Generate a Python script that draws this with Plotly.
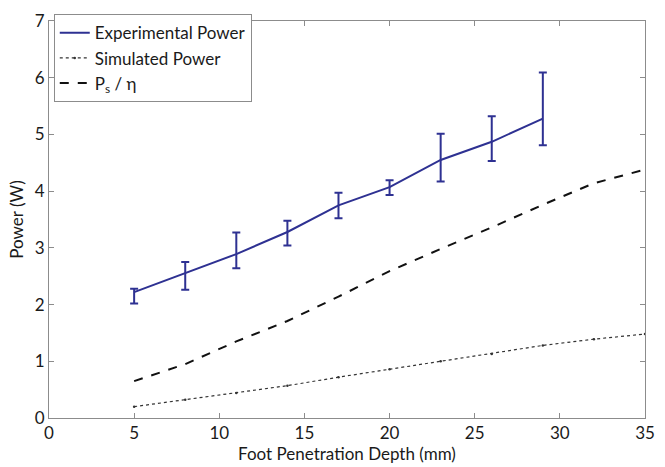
import plotly.graph_objects as go

depth_exp = [5, 8, 11, 14, 17, 20, 23, 26, 29]
power_exp = [2.22, 2.56, 2.89, 3.28, 3.75, 4.07, 4.55, 4.87, 5.28]
power_exp_hi = [2.28, 2.75, 3.27, 3.48, 3.97, 4.19, 5.01, 5.32, 6.09]
power_exp_lo = [2.02, 2.26, 2.64, 3.04, 3.52, 3.93, 4.17, 4.53, 4.81]

depth_sim = [5, 8, 11, 14, 17, 20, 23, 26, 29, 32, 35]
power_sim = [0.20, 0.32, 0.44, 0.57, 0.72, 0.86, 1.00, 1.13, 1.28, 1.39, 1.48]
power_ps_eta = [0.65, 0.95, 1.35, 1.71, 2.14, 2.59, 2.98, 3.36, 3.76, 4.14, 4.38]

x_ticks = [0, 5, 10, 15, 20, 25, 30, 35]
y_ticks = [0, 1, 2, 3, 4, 5, 6, 7]

blue = "#2e3192"
text_color = "#1a1a1a"
font_family = "Lato, 'Open Sans', sans-serif"

fig = go.Figure()
fig.add_trace(go.Scatter(
    x=depth_exp, y=power_exp, mode="lines", name="Experimental Power",
    line=dict(color=blue, width=2),
    error_y=dict(type="data", symmetric=False,
                 array=[h - v for h, v in zip(power_exp_hi, power_exp)],
                 arrayminus=[v - l for v, l in zip(power_exp, power_exp_lo)],
                 color=blue, thickness=2, width=4),
))
fig.add_trace(go.Scatter(
    x=depth_sim, y=power_sim, mode="lines+markers", name="Simulated Power",
    line=dict(color="#333333", width=1.2, dash="dot"),
    marker=dict(color="#333333", size=2.5),
))
fig.add_trace(go.Scatter(
    x=depth_sim, y=power_ps_eta, mode="lines", name="P<sub>s</sub> / η",
    line=dict(color="#111111", width=2, dash="dash"),
))

axis_common = dict(
    showline=True, linecolor="#8c8c8c", linewidth=1, mirror="ticks",
    ticks="inside", ticklen=5, tickcolor="#8c8c8c", showgrid=False, zeroline=False,
    tickfont=dict(size=17, color=text_color, family=font_family),
)
fig.update_xaxes(range=[0, 35], tickvals=x_ticks, **axis_common,
                 title=dict(text="Foot Penetration Depth (mm)", standoff=2,
                            font=dict(size=17, color=text_color, family=font_family)))
fig.update_yaxes(range=[0, 7], tickvals=y_ticks, **axis_common,
                 title=dict(text="Power (W)", standoff=6,
                            font=dict(size=17, color=text_color, family=font_family)))

fig.update_layout(
    width=665, height=467,
    margin=dict(l=49, r=10, t=12, b=48),
    paper_bgcolor="white", plot_bgcolor="white",
    showlegend=True,
    legend=dict(x=0.008, y=1.017, xanchor="left", yanchor="top",
                bordercolor="#8c8c8c", borderwidth=1, bgcolor="white",
                font=dict(size=17, color=text_color, family=font_family),
                tracegroupgap=0, itemwidth=30),
)

fig.write_html("out.html")
